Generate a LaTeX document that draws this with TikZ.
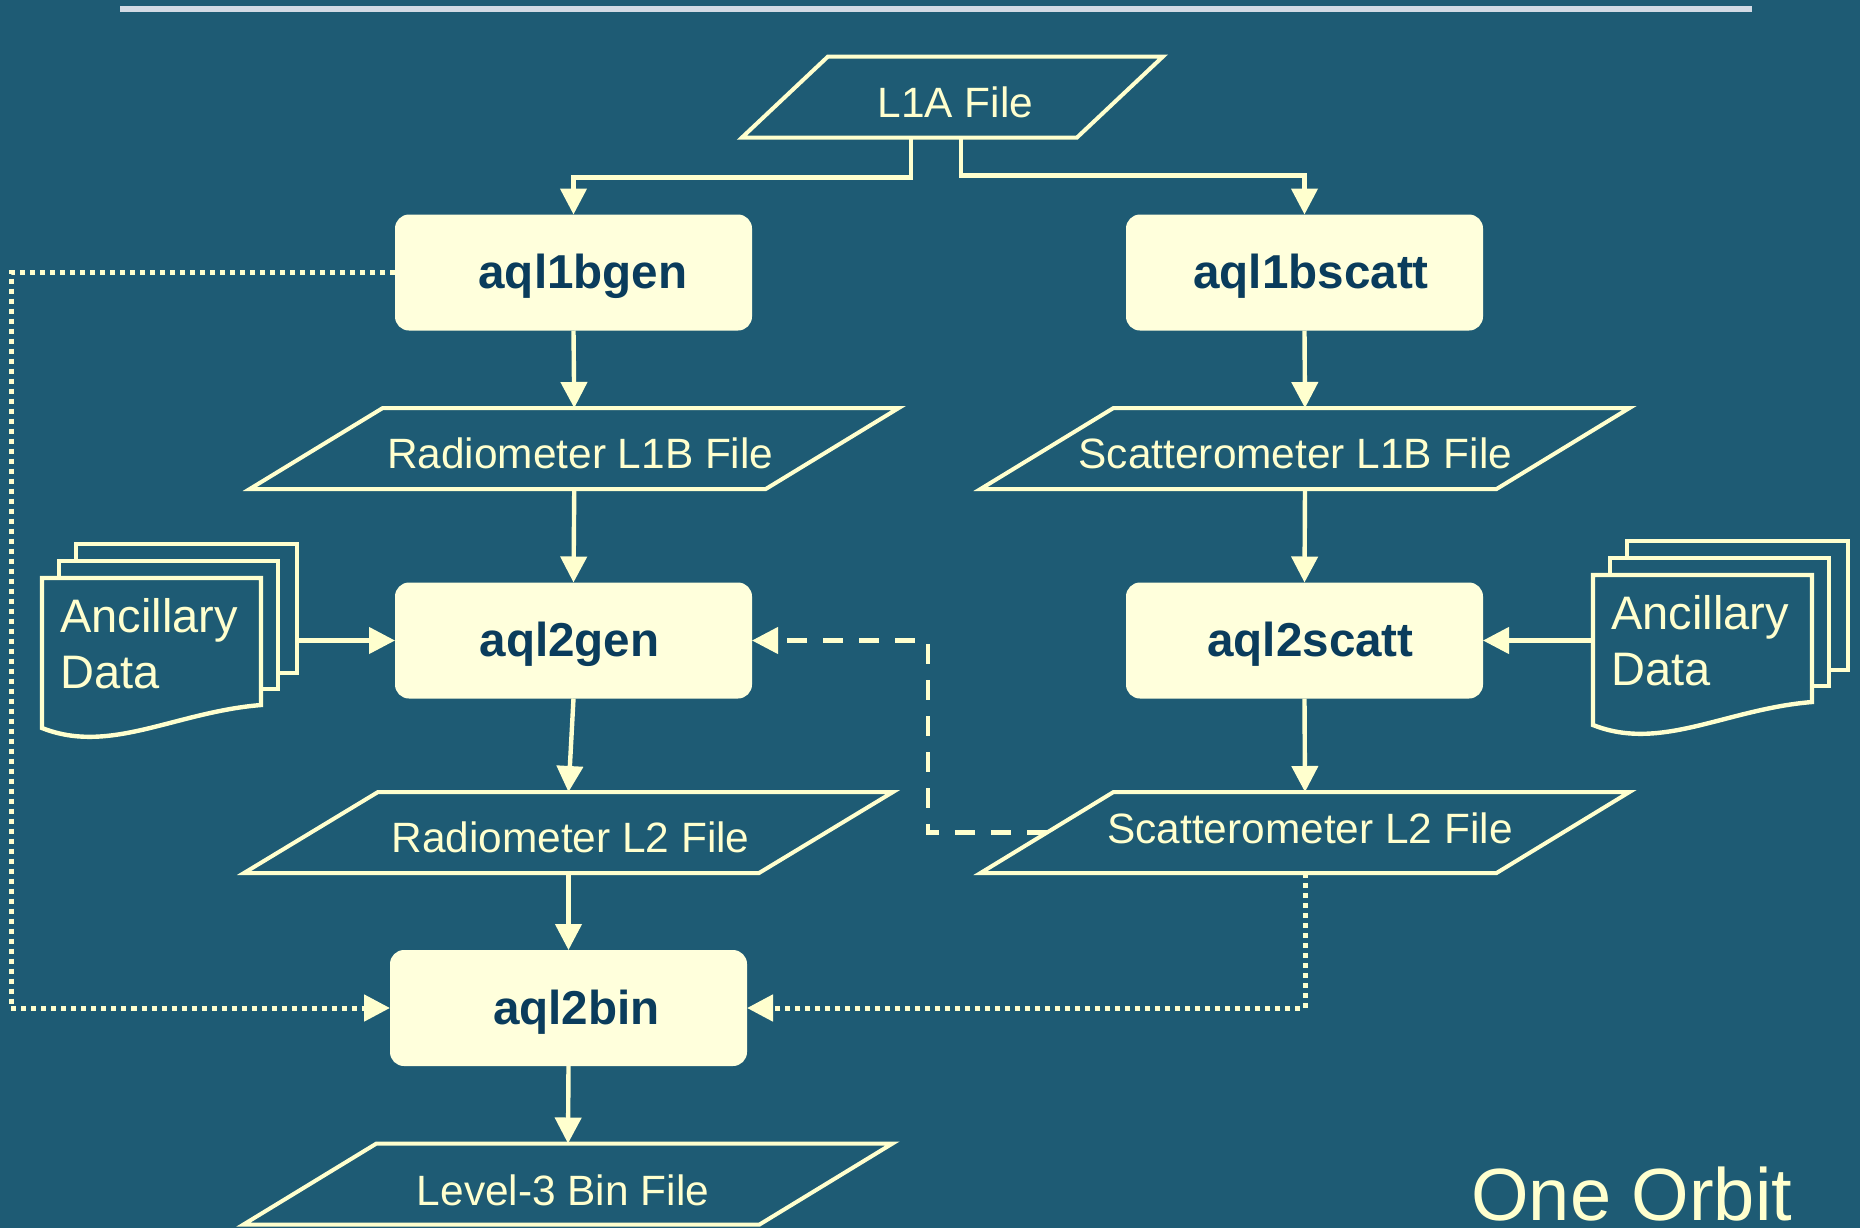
\documentclass[tikz,border=0pt]{standalone}
\usepackage{fontspec}
\setmainfont{Liberation Sans}
\usetikzlibrary{arrows.meta,calc}

\definecolor{bgblue}{RGB}{30,91,116}
\definecolor{cream}{RGB}{255,255,206}
\definecolor{boxfill}{RGB}{255,255,220}
\definecolor{boxtext}{RGB}{10,60,92}
\definecolor{rulegray}{RGB}{210,218,228}

% data file: [options], name, centre, side length, half slant, label
\newcommand\datafile[6][]{%
  \node[filenode,minimum width=#4*0.5pt,#1] (#2) at (#3) {#6};
  \draw[fileline]
    ([xshift=#5*0.5pt]#2.north west) -- ([xshift=#5*0.5pt]#2.north east) --
    ([xshift=-#5*0.5pt]#2.south east) -- ([xshift=-#5*0.5pt]#2.south west) -- cycle;
}

% stack of three documents; #1 name, #2 top-left corner of the front sheet
\newcommand\ancdoc[2]{%
  \begin{scope}[shift={(#2)}]
    \draw[docline] (34,-17) -- (34,-34) -- (255,-34) -- (255,95) -- (236,95);
    \draw[docline] (17,0) -- (17,-17) -- (236,-17) -- (236,111) -- (219,111);
    \draw[docline] (0,0) -- (219,0) -- (219,127)
      .. controls (133,134) and (68,177) .. (0,150) -- cycle;
    \node[anctext] (#1-a) at (18,54) {Ancillary};
    \node[anctext] (#1-b) at (18,110) {Data};
    \coordinate (#1-east) at (255,63);
    \coordinate (#1-west) at (0,63);
  \end{scope}
}

\begin{document}
\begin{tikzpicture}[
  x=0.5pt, y=-0.5pt,
  procbox/.style={rounded corners=7pt, fill=boxfill, text=boxtext,
    font=\fontsize{23.8}{28}\selectfont\bfseries,
    minimum width=178.5pt, minimum height=58pt, inner sep=0pt, outer sep=0pt,
    text height=21pt, text depth=5pt},
  filenode/.style={text=cream, font=\fontsize{21.2}{25}\selectfont,
    inner sep=0pt, outer sep=0pt, minimum height=40.5pt,
    text height=20pt, text depth=0pt},
  fileline/.style={draw=cream, line width=2pt, line join=miter},
  docline/.style={draw=cream, line width=2.2pt, line join=miter},
  anctext/.style={text=cream, font=\fontsize{23.5}{28}\selectfont,
    inner sep=0pt, anchor=base west},
  tip/.style={-{Triangle[length=13pt,width=13pt]}},
  conn/.style={draw=cream, line width=2.2pt, tip},
  dotconn/.style={draw=cream, line width=2.5pt, dash pattern=on 2.5pt off 2.5pt, tip},
  dashconn/.style={draw=cream, line width=2.2pt, dash pattern=on 10pt off 8pt, tip}
]
\fill[bgblue] (0,0) rectangle (1860,1228);
\useasboundingbox (0,0) rectangle (1860,1228);

% title rule
\draw[rulegray, line width=3pt] (120,9) -- (1752,9);

% processing steps
\node[procbox] (g1)  at (573.5,272.5)  {\hspace*{9.5pt}aql1bgen};
\node[procbox] (s1)  at (1304.5,272.5) {\hspace*{6.5pt}aql1bscatt};
\node[procbox] (g2)  at (573.5,640.5)  {aql2gen\hspace*{4pt}};
\node[procbox] (s2p) at (1304.5,640.5) {\hspace*{6pt}aql2scatt};
\node[procbox] (bin) at (568.5,1008)   {\hspace*{8pt}aql2bin};

% data files
\datafile{l1a}{952.5,97}{335}{43}{\hspace*{3pt}L1A File}
\datafile{r1b}{574.25,448.5}{516}{66.5}{\hspace*{6pt}Radiometer L1B File}
\datafile{s1b}{1305,448.5}{516}{66.5}{Scatterometer L1B File\hspace*{9.5pt}}
\datafile{r2}{568.5,832.5}{515}{67}{\hspace*{2pt}Radiometer L2 File}
\datafile[text height=10.5pt]{s2}{1305,832.5}{516}{66.5}{\hspace*{5pt}Scatterometer L2 File}
\datafile[text height=21pt]{l3}{568,1184}{516}{66.5}{Level-3 Bin File\hspace*{5pt}}

% ancillary inputs
\ancdoc{ancL}{42,578}
\ancdoc{ancR}{1593,575}

% main flow
\draw[conn] ([xshift=-20.75pt]l1a.south) -- ++(0,40) -| (g1.north);
\draw[conn] ([xshift=4.25pt]l1a.south) -- ++(0,38) -| (s1.north);
\draw[conn] (g1.south) -- (r1b.north);
\draw[conn] (r1b.south) -- (g2.north);
\draw[conn] (g2.south) -- (r2.north);
\draw[conn] (r2.south) -- (bin.north);
\draw[conn] (bin.south) -- (l3.north);
\draw[conn] (s1.south) -- (s1b.north);
\draw[conn] (s1b.south) -- (s2p.north);
\draw[conn] (s2p.south) -- (s2.north);

\draw[conn] (g2.west -| ancL-east) -- (g2.west);
\draw[conn] (s2p.east -| ancR-west) -- (s2p.east);

% optional paths
\draw[dotconn] (g1.west) -- ++(-384,0) |- (bin.west);
\draw[dotconn] (s2.south) |- (bin.east);
\draw[dashconn] (s2.west) -- ++(-119,0) |- (g2.east);

\node[anchor=base west, text=cream, font=\fontsize{37}{44}\selectfont,
  inner sep=0pt] (orbit) at (1471,1220) {One Orbit};
\end{tikzpicture}
\end{document}
